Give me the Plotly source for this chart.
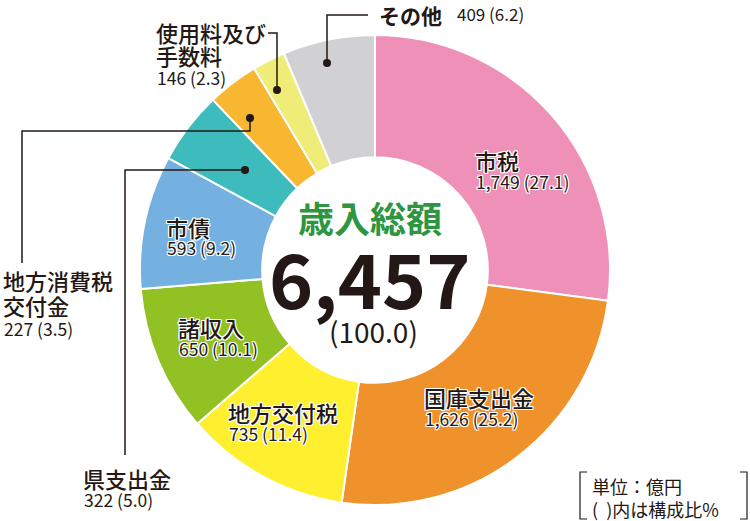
import plotly.graph_objects as go

# Revenue breakdown (unit: 100 million yen)
labels = ['市税', '国庫支出金', '地方交付税', '諸収入', '市債',
          '県支出金', '地方消費税交付金', '使用料及び手数料', 'その他']
values = [1749, 1626, 735, 650, 593, 322, 227, 146, 409]
shares = [27.1, 25.2, 11.4, 10.1, 9.2, 5.0, 3.5, 2.3, 6.2]
total = 6457
total_share = 100.0
name_lines = [['市税'], ['国庫支出金'], ['地方交付税'], ['諸収入'], ['市債'],
              ['県支出金'], ['地方消費税', '交付金'], ['使用料及び', '手数料'], ['その他']]
colors = ['#EE90B8', '#F0922B', '#FFEF2E', '#92C123', '#74B1E0',
          '#3EBBBD', '#F7B731', '#EFEC78', '#D1D1D3']

W, H = 750, 521
FONT = 'Noto Sans CJK JP'
INK = '#231815'
HALO = ('1px 1px 0 #fff, -1px -1px 0 #fff, 1px -1px 0 #fff, -1px 1px 0 #fff, '
        '0 1px 0 #fff, 0 -1px 0 #fff, 1px 0 0 #fff, -1px 0 0 #fff')


def px(x, y):
    return x / W, 1 - y / H


fig = go.Figure(go.Pie(
    labels=labels, values=values, sort=False, direction='clockwise',
    hole=0.48, textinfo='none', hoverinfo='label+value',
    marker=dict(colors=colors, line=dict(color='white', width=2)),
    domain=dict(x=[140 / W, 610 / W], y=[1 - 505 / H, 1 - 35 / H]),
    showlegend=False,
))

# label placement: (left x, first line centre y, line step, inside ring?)
label_pos = [
    (474, 160, 22, True), (423, 397, 22, True), (227, 412, 22, True),
    (177, 327, 22, True), (165, 227, 21, True), (82, 478, 22, False),
    (2, 280, 24.5, False), (155, 32, 23, False), (378, 15, 0, False),
]

annotations = []
for i, (lx, ly, step, inside) in enumerate(label_pos):
    shadow = HALO if inside else 'none'
    value_txt = f'{values[i]:,} ({shares[i]:.1f})'
    if labels[i] == 'その他':
        x0, y0 = px(lx, ly)
        annotations.append(dict(x=x0, y=y0, text=name_lines[i][0], xanchor='left',
                                borderpad=0,
                                font=dict(family=FONT, size=21, color=INK, weight='bold')))
        x1, y1 = px(lx + 78, ly - 1)
        annotations.append(dict(x=x1, y=y1, text=value_txt, xanchor='left',
                                borderpad=0,
                                font=dict(family=FONT, size=17, color=INK)))
        continue
    y = ly
    for line in name_lines[i]:
        x0, y0 = px(lx, y)
        annotations.append(dict(x=x0, y=y0, text=line, xanchor='left', borderpad=0,
                                font=dict(family=FONT, size=22, color=INK,
                                          weight=500, shadow=shadow)))
        y += step
    x1, y1 = px(lx + 1, y - 1)
    annotations.append(dict(x=x1, y=y1, text=value_txt, xanchor='left', borderpad=0,
                            font=dict(family=FONT, size=17.5, color=INK, shadow=shadow)))

# centre text
cx, cy = px(370, 217)
annotations.append(dict(x=cx, y=cy, text='歳入総額', xanchor='center', borderpad=0,
                        font=dict(family=FONT, size=36, color='#2E9640', weight='bold')))
cx, cy = px(369, 276)
annotations.append(dict(x=cx, y=cy, text=f'{total:,}', xanchor='center', borderpad=0,
                        font=dict(family=FONT, size=75, color=INK, weight='bold')))
cx, cy = px(373, 331)
annotations.append(dict(x=cx, y=cy, text=f'({total_share:.1f})', xanchor='center',
                        borderpad=0,
                        font=dict(family=FONT, size=28, color=INK)))

# unit note
nx, ny = px(591, 497)
annotations.append(dict(x=nx, y=ny, text='単位：億円<br>(  )内は構成比%', xanchor='left',
                        align='left', borderpad=0,
                        font=dict(family=FONT, size=18, color=INK)))

for a in annotations:
    a.update(xref='paper', yref='paper', showarrow=False, yanchor='middle')

# leader lines and dots
leaders = [
    [(327, 63), (327, 15), (368, 15)],
    [(277, 90), (277, 33), (268, 33)],
    [(250, 118), (250, 131), (22, 131), (22, 263)],
    [(245, 170), (125, 170), (125, 455)],
]
shapes = []
for pts in leaders:
    path = 'M' + ' L'.join(f'{px(x, y)[0]},{px(x, y)[1]}' for x, y in pts)
    shapes.append(dict(type='path', xref='paper', yref='paper', path=path,
                       line=dict(color=INK, width=1.5)))
    dx, dy = pts[0]
    x0, y0 = px(dx - 4, dy + 4)
    x1, y1 = px(dx + 4, dy - 4)
    shapes.append(dict(type='circle', xref='paper', yref='paper',
                       x0=x0, y0=y0, x1=x1, y1=y1,
                       fillcolor=INK, line=dict(color=INK, width=0)))

# brackets around the unit note
for pts in [[(587, 472), (580, 472), (580, 519), (587, 519)],
            [(740, 472), (747, 472), (747, 519), (740, 519)]]:
    path = 'M' + ' L'.join(f'{px(x, y)[0]},{px(x, y)[1]}' for x, y in pts)
    shapes.append(dict(type='path', xref='paper', yref='paper', path=path,
                       line=dict(color=INK, width=1.2)))

fig.update_layout(
    width=W, height=H, margin=dict(l=0, r=0, t=0, b=0),
    paper_bgcolor='white', plot_bgcolor='white',
    annotations=annotations, shapes=shapes,
)

# drop the default page margin so the figure sits at the window's corner
fig.write_html('out.html', config={'displayModeBar': False},
               post_script="document.body.style.margin='0';")
